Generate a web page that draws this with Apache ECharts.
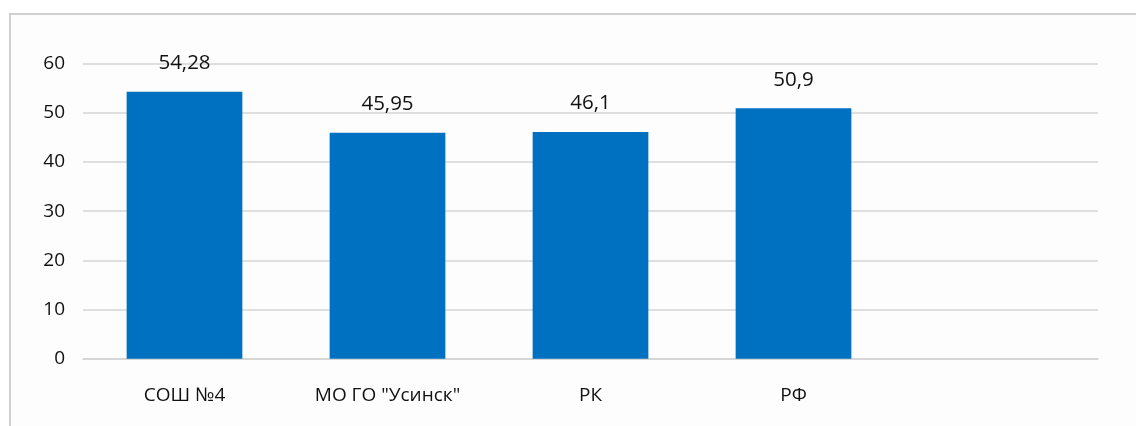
<!DOCTYPE html>
<html>
<head>
<meta charset="utf-8">
<script src="https://cdn.jsdelivr.net/npm/echarts@6/dist/echarts.min.js"></script>
<style>
html,body{margin:0;padding:0;background:#ffffff;}
#c{width:1136px;height:426px;}
</style>
</head>
<body>
<div id="c"></div>
<script>
const categories = ['СОШ №4', 'МО ГО "Усинск"', 'РК', 'РФ', ''];
const values = [54.28, 45.95, 46.1, 50.9, null];
const yTicks = { min: 0, max: 60, interval: 10 };

const chart = echarts.init(document.getElementById('c'), null, { renderer: 'canvas' });
const font = '"Open Sans", sans-serif';
chart.setOption({
  animation: false,
  backgroundColor: '#ffffff',
  graphic: [{
    type: 'rect',
    left: 9, top: 13,
    shape: { x: 0, y: 0, width: 1200, height: 500 },
    style: { fill: '#fdfdfd', stroke: '#d0d0d0', lineWidth: 2 },
    z: -10, silent: true
  }],
  grid: { left: 83, right: 38, top: 63.5, bottom: 67.3, containLabel: false },
  xAxis: {
    type: 'category',
    data: categories,
    axisLine: { show: true, lineStyle: { color: '#d4d4d4', width: 1.5 } },
    axisTick: { show: false },
    axisLabel: { color: '#111111', fontSize: 19, fontFamily: font, margin: 27, interval: 0 }
  },
  yAxis: {
    type: 'value',
    min: yTicks.min, max: yTicks.max, interval: yTicks.interval,
    axisLine: { show: false },
    axisTick: { show: false },
    splitLine: { lineStyle: { color: '#d4d4d4', width: 1.5 } },
    axisLabel: { color: '#111111', fontSize: 19, fontFamily: font, margin: 18 }
  },
  series: [{
    type: 'bar',
    data: values,
    barWidth: '57%',
    itemStyle: { color: '#0070c0' },
    label: {
      show: true, position: 'top', distance: 18,
      color: '#111111', fontSize: 20.5, fontFamily: font,
      formatter: p => String(p.value).replace('.', ',')
    }
  }]
});
</script>
</body>
</html>
